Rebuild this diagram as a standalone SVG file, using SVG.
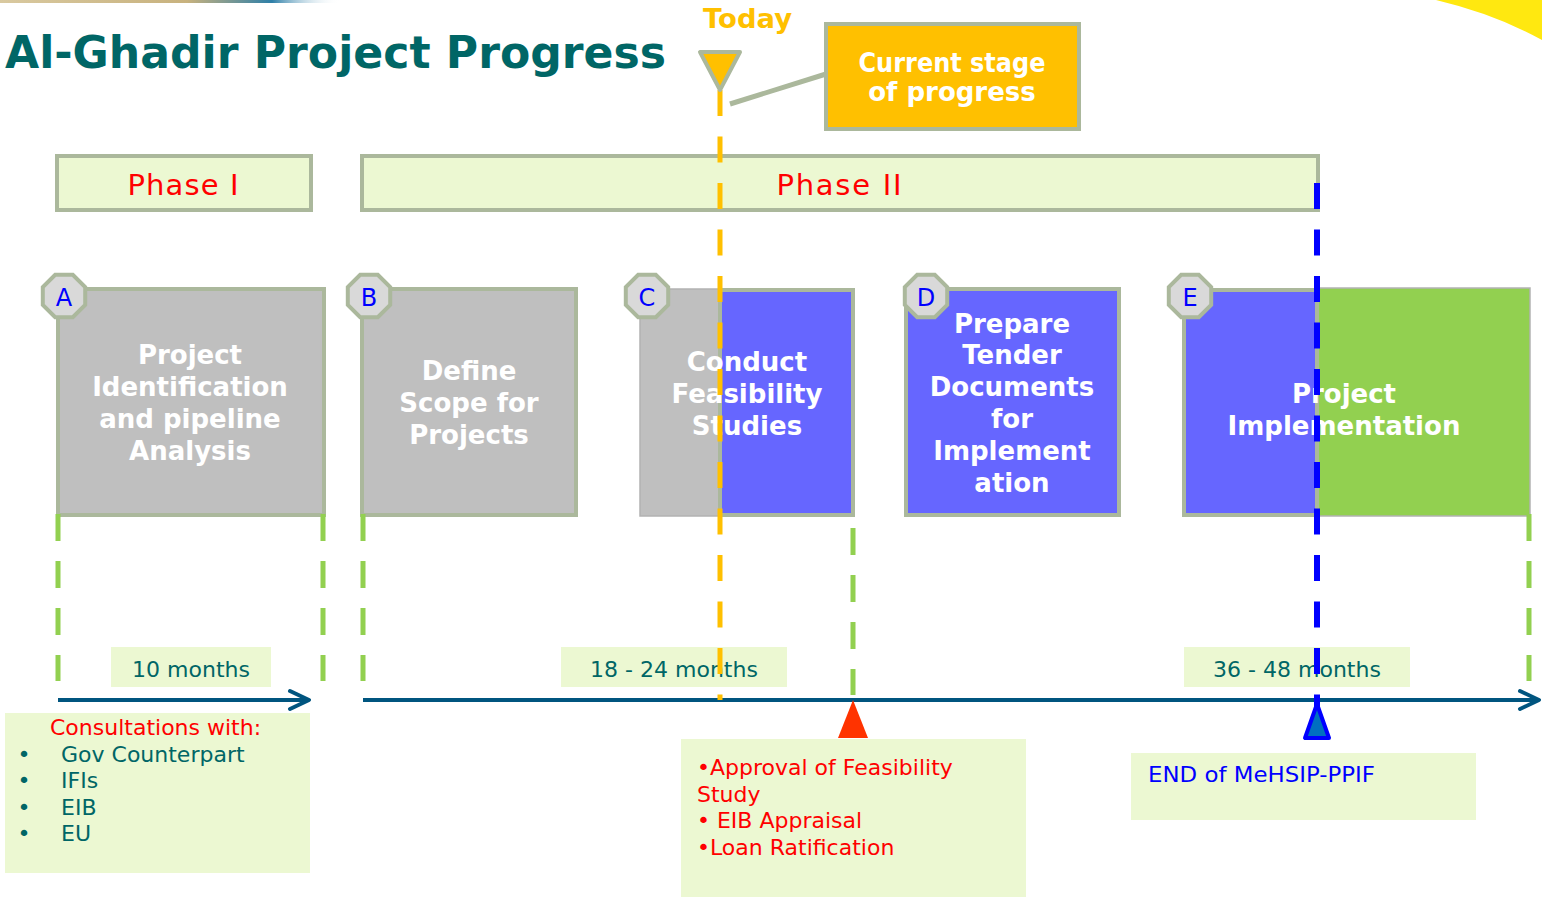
<svg xmlns="http://www.w3.org/2000/svg" xmlns:xlink="http://www.w3.org/1999/xlink" width="1542" height="897" viewBox="0 0 1542 897">
<style>
.title{font-family:"DejaVu Sans",Verdana,sans-serif;font-weight:bold;font-size:44px;fill:#006666}
.box{stroke:#ABB89C;stroke-width:4}
.grey{fill:#BFBFBF}
.blue{fill:#6666FF}
.green{fill:#92D050}
.pale{fill:#ECF8D2}
.lbl{font-family:"DejaVu Sans",Verdana,sans-serif;font-weight:bold;font-size:26px;fill:#FFFFFF;text-anchor:middle}
.badge{fill:#D9D9D9;stroke:#ABB89C;stroke-width:4}
.letter{font-family:"DejaVu Sans",Verdana,sans-serif;font-size:24px;fill:#0000FF;text-anchor:middle}
.phase{font-family:"DejaVu Sans",Verdana,sans-serif;font-size:29px;fill:#FF0000;text-anchor:middle}
.body{font-family:"DejaVu Sans",Verdana,sans-serif;font-size:22px}
.teal{fill:#006666}
.red{fill:#FF0000}
.gdash{stroke:#92D050;stroke-width:5;stroke-dasharray:27 20}
.tl{stroke:#00557F;stroke-width:4;fill:none}
</style>
<defs>
<polygon id="oct" points="21.2,-8.8 21.2,8.8 8.8,21.2 -8.8,21.2 -21.2,8.8 -21.2,-8.8 -8.8,-21.2 8.8,-21.2"/>
<marker id="chev" viewBox="0 0 24 24" refX="22" refY="12" markerWidth="24" markerHeight="24" markerUnits="userSpaceOnUse" orient="auto">
<path d="M3,3 L22,12 L3,21" fill="none" stroke="#00557F" stroke-width="4" stroke-linecap="round" stroke-linejoin="round"/>
</marker>
<linearGradient id="strip" x1="0" y1="0" x2="1" y2="0">
<stop offset="0" stop-color="#D9C9A0"/>
<stop offset="0.55" stop-color="#C8B27E"/>
<stop offset="0.8" stop-color="#2E7FA8"/>
<stop offset="1" stop-color="#FFFFFF" stop-opacity="0"/>
</linearGradient>
</defs>

<!-- decorations -->
<rect x="0" y="0" width="340" height="3" fill="url(#strip)"/>
<path d="M1436,0 Q1495,14 1542,40 L1542,0 Z" fill="#FFE810"/>

<text class="title" x="5" y="68" textLength="661" lengthAdjust="spacingAndGlyphs">Al-Ghadir Project Progress</text>

<!-- Phase boxes -->
<g id="phase1">
<rect class="box pale" x="57" y="156" width="254" height="54"/>
<text class="phase" x="183" y="195" textLength="111" lengthAdjust="spacing">Phase I</text>
</g>
<g id="phase2">
<rect class="box pale" x="362" y="156" width="956" height="54"/>
<text class="phase" x="839" y="195" textLength="125" lengthAdjust="spacing">Phase II</text>
</g>

<!-- Step boxes -->
<g id="boxA">
<rect class="box grey" x="58" y="289" width="266" height="226"/>
<use xlink:href="#oct" class="badge" x="64" y="296"/>
<text class="letter" x="64" y="306">A</text>
<text class="lbl" x="190" y="364">Project</text>
<text class="lbl" x="190" y="396">Identification</text>
<text class="lbl" x="190" y="428">and pipeline</text>
<text class="lbl" x="190" y="460">Analysis</text>
</g>
<g id="boxB">
<rect class="box grey" x="362" y="289" width="214" height="226"/>
<use xlink:href="#oct" class="badge" x="369" y="296"/>
<text class="letter" x="369" y="306">B</text>
<text class="lbl" x="469" y="380">Define</text>
<text class="lbl" x="469" y="412">Scope for</text>
<text class="lbl" x="469" y="444">Projects</text>
</g>
<g id="boxC">
<rect class="grey" x="640" y="289" width="81" height="227" stroke="#B2B2B2" stroke-width="1.5"/>
<rect class="box blue" x="720" y="290" width="133" height="225"/>
<use xlink:href="#oct" class="badge" x="647" y="296"/>
<text class="letter" x="647" y="306">C</text>
<text class="lbl" x="747" y="371">Conduct</text>
<text class="lbl" x="747" y="403">Feasibility</text>
<text class="lbl" x="747" y="435">Studies</text>
</g>
<g id="boxD">
<rect class="box blue" x="906" y="289" width="213" height="226"/>
<use xlink:href="#oct" class="badge" x="926" y="296"/>
<text class="letter" x="926" y="306">D</text>
<text class="lbl" x="1012" y="333">Prepare</text>
<text class="lbl" x="1012" y="364">Tender</text>
<text class="lbl" x="1012" y="396">Documents</text>
<text class="lbl" x="1012" y="428">for</text>
<text class="lbl" x="1012" y="460">Implement</text>
<text class="lbl" x="1012" y="492">ation</text>
</g>
<g id="boxE">
<rect class="green" x="1316" y="288" width="214" height="228" stroke="#B2B2B2" stroke-width="1.5"/>
<rect class="box blue" x="1184" y="290" width="133" height="225"/>
<use xlink:href="#oct" class="badge" x="1190" y="296"/>
<text class="letter" x="1190" y="306">E</text>
<text class="lbl" x="1344" y="403">Project</text>
<text class="lbl" x="1344" y="435">Implementation</text>
</g>

<!-- duration labels -->
<g id="dur1">
<rect class="pale" x="111" y="647" width="160" height="40"/>
<text class="body teal" x="191" y="677" text-anchor="middle">10 months</text>
</g>
<g id="dur2">
<rect class="pale" x="561" y="647" width="226" height="40"/>
<text class="body teal" x="674" y="677" text-anchor="middle">18 - 24 months</text>
</g>
<g id="dur3">
<rect class="pale" x="1184" y="647" width="226" height="40"/>
<text class="body teal" x="1297" y="677" text-anchor="middle">36 - 48 months</text>
</g>

<!-- notes -->
<g id="consult">
<rect class="pale" x="5" y="713" width="305" height="160"/>
<text class="body red" x="50" y="735">Consultations with:</text>
<g class="body teal">
<text x="24" y="762" text-anchor="middle">•</text><text x="61" y="762">Gov Counterpart</text>
<text x="24" y="788" text-anchor="middle">•</text><text x="61" y="788">IFIs</text>
<text x="24" y="815" text-anchor="middle">•</text><text x="61" y="815">EIB</text>
<text x="24" y="841" text-anchor="middle">•</text><text x="61" y="841">EU</text>
</g>
</g>
<g id="approval">
<rect class="pale" x="681" y="739" width="345" height="158"/>
<g class="body red">
<text x="697" y="775">•Approval of Feasibility</text>
<text x="697" y="802">Study</text>
<text x="697" y="828">• EIB Appraisal</text>
<text x="697" y="855">•Loan Ratification</text>
</g>
</g>
<g id="endnote">
<rect class="pale" x="1131" y="753" width="345" height="67"/>
<text class="body" x="1148" y="782" fill="#0000FF" textLength="227" lengthAdjust="spacingAndGlyphs">END of MeHSIP-PPIF</text>
</g>

<!-- current stage callout -->
<g id="current">
<rect x="826" y="24" width="253" height="105" fill="#FFC000" stroke="#ABB89C" stroke-width="4"/>
<text class="lbl" x="952" y="72" font-size="24" textLength="187" lengthAdjust="spacingAndGlyphs">Current stage</text>
<text class="lbl" x="952" y="101" font-size="24">of progress</text>
</g>
<g id="today">
<text x="703" y="28" font-family="DejaVu Sans, Verdana, sans-serif" font-weight="bold" font-size="26" fill="#FFC000" textLength="89" lengthAdjust="spacingAndGlyphs">Today</text>
</g>

<!-- connectors -->
<g id="connectors">
<line class="tl" x1="58" y1="700" x2="309" y2="700" marker-end="url(#chev)"/>
<line class="tl" x1="363" y1="700" x2="1539" y2="700" marker-end="url(#chev)"/>
<line class="gdash" x1="58" y1="514" x2="58" y2="681"/>
<line class="gdash" x1="323" y1="514" x2="323" y2="681"/>
<line class="gdash" x1="363" y1="514" x2="363" y2="681"/>
<line class="gdash" x1="1529" y1="514" x2="1529" y2="681"/>
<line class="gdash" x1="853" y1="528" x2="853" y2="695"/>
<line x1="730" y1="104" x2="826" y2="74" stroke="#ABB89C" stroke-width="5"/>
<line x1="720" y1="90" x2="720" y2="700" stroke="#FFC000" stroke-width="5" stroke-dasharray="26 20.5"/>
<line x1="1317" y1="183" x2="1317" y2="738" stroke="#0000FF" stroke-width="6" stroke-dasharray="26 20.5"/>
<polygon points="700,52 740,52 720,90" fill="#FFC000" stroke="#ABB89C" stroke-width="4" stroke-linejoin="round"/>
<polygon points="853,700 838,738 868,738" fill="#FF3300"/>
<polygon points="1317,704 1305,738 1329,738" fill="#0070C0" stroke="#0000FF" stroke-width="4" stroke-linejoin="round"/>
</g>
</svg>
